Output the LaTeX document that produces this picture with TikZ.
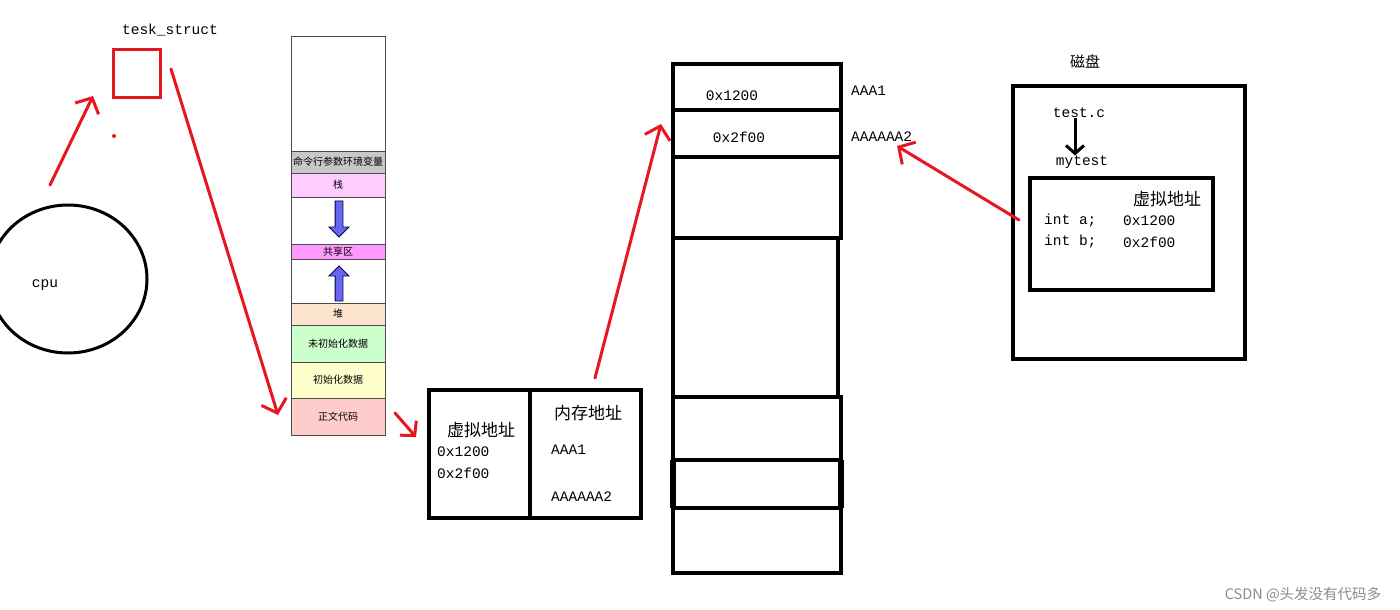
\documentclass[tikz,border=0pt]{standalone}
\usepackage{fontspec}
\setmainfont{Liberation Serif}
\setmonofont{Liberation Mono}
\newfontfamily\cjk{Noto Sans CJK SC}
\usepackage{xcolor}
\usetikzlibrary{positioning}
\usetikzlibrary{arrows.meta,shapes.arrows,shapes.geometric}

\definecolor{penred}{RGB}{232,22,32}
\definecolor{cmdgray}{RGB}{200,200,200}
\definecolor{stackpink}{RGB}{255,204,255}
\definecolor{sharepink}{RGB}{255,153,255}
\definecolor{heappeach}{RGB}{252,228,206}
\definecolor{bssgreen}{RGB}{204,255,204}
\definecolor{datayellow}{RGB}{255,255,204}
\definecolor{textred}{RGB}{255,204,204}
\definecolor{fatblue}{RGB}{102,102,240}

\begin{document}
\begin{tikzpicture}[x=1pt,y=-1pt,
pen/.style={penred, line width=3pt, line cap=round, line join=round, -{Straight Barb[length=12pt,width=26pt]}},
seg/.style={rectangle, draw=black!70, line width=0.8pt, outer sep=0pt, inner sep=0pt, minimum width=94pt, font=\cjk\fontsize{10}{10}\selectfont},
fat/.style={single arrow, draw=black!70!blue, fill=fatblue, line width=0.8pt, minimum width=19pt, single arrow head extend=6pt, inner sep=3.5pt, minimum height=36pt, shape border rotate=270},
cell/.style={rectangle, draw, line width=3.5pt, outer sep=0pt, inner sep=0pt},
mono/.style={font=\ttfamily\fontsize{14.5}{14.5}\selectfont, inner sep=0pt},
han/.style={font=\cjk\fontsize{17}{17}\selectfont, inner sep=0pt}
]
\fill[white] (0,0) rectangle (1400,610);
\useasboundingbox (0,0) rectangle (1400,610);

%Nodes
\node[draw, ellipse, line width=3pt, minimum width=158pt, minimum height=148pt] (cpu) at (68,279) {};
\node[mono] at (45,285) {cpu};
\node[rectangle, draw=penred, line width=3pt, minimum size=47pt] (tsk) at (136.5,73.5) {};
\node[mono] (tskl) at (170,30) {tesk\_struct};
\fill[penred] (114,136) circle (2);

% address space
\node[seg, minimum height=115pt] (S0) at (338,36) [anchor=north] {};
\node[seg, fill=cmdgray, minimum height=22pt] (S1) [below=0pt of S0] {命令行参数环境变量};
\node[seg, fill=stackpink, minimum height=24pt] (S2) [below=0pt of S1] {栈};
\node[seg, minimum height=47pt] (S3) [below=0pt of S2] {};
\node[seg, fill=sharepink, minimum height=15pt] (S4) [below=0pt of S3] {共享区};
\node[seg, minimum height=44pt] (S5) [below=0pt of S4] {};
\node[seg, fill=heappeach, minimum height=22pt] (S6) [below=0pt of S5] {堆};
\node[seg, fill=bssgreen, minimum height=37pt] (S7) [below=0pt of S6] {未初始化数据};
\node[seg, fill=datayellow, minimum height=36pt] (S8) [below=0pt of S7] {初始化数据};
\node[seg, fill=textred, minimum height=37pt] (S9) [below=0pt of S8] {正文代码};
\node[fat] (down) at (339,217) {};
\node[fat, shape border rotate=90, minimum height=35pt] (up) at (339,285.5) {};

% page table
\node[cell, minimum width=101pt, minimum height=128pt] (PT1) at (479.5,454) {};
\node[cell, line width=4.5pt, minimum width=111pt, minimum height=128pt] (PT2) [right=0pt of PT1] {};
\node[han] (ptv) at (481,430) {虚拟地址};
\node[mono, anchor=west] (pta) at (437,452) {0x1200};
\node[mono, anchor=west] (ptb) at (437,473) {0x2f00};
\node[han] (ptm) at (588,413) {内存地址};
\node[mono, anchor=west] (ptx) at (551,450) {AAA1};
\node[mono, anchor=west] (pty) at (551,497) {AAAAAA2};

% physical memory
\node[cell, minimum width=168pt, minimum height=46pt] (M1) at (757,64) [anchor=north] {};
\node[cell, minimum width=168pt, minimum height=47pt] (M2) [below=0pt of M1] {};
\node[cell, minimum width=168pt, minimum height=81pt] (M3) [below=0pt of M2] {};
\node[cell, minimum width=165pt, minimum height=159pt, xshift=-1.5pt] (M4) [below=0pt of M3] {};
\node[cell, minimum width=168pt, minimum height=63pt] (M5) [below=0pt of M3.south, yshift=-159pt] {};
\node[cell, minimum width=168pt, minimum height=48pt] (M6) [below=0pt of M5] {};
\node[cell, minimum width=168pt, minimum height=65pt] (M7) [below=0pt of M6] {};
\node[mono] (m1) at (732,96) {0x1200};
\node[mono] (m2) at (739,137) {0x2f00};
\node[mono, anchor=west] (ma) at (851,91) {AAA1};
\node[mono, anchor=west] (mb) at (851,137) {AAAAAA2};

% disk
\node[han, font=\cjk\fontsize{15}{15}\selectfont] (dsk) at (1085,62) {磁盘};
\node[cell, minimum width=232pt, minimum height=273pt] (D) at (1129,222.5) {};
\node[mono] (tc) at (1079,113) {test.c};
\node[mono] (myt) at (1082,162) {mytest};
\node[cell, minimum width=183pt, minimum height=112pt] (DV) at (1121.5,234) {};
\node[han] (dvv) at (1167,199) {虚拟地址};
\node[mono, anchor=west] (da) at (1044,221) {int a;};
\node[mono, anchor=west] (db) at (1044,242) {int b;};
\node[mono, anchor=west] (dx) at (1123,221) {0x1200};
\node[mono, anchor=west] (dy) at (1123,242) {0x2f00};

\node[font=\cjk\fontsize{14.5}{14.5}\selectfont, text=black!45, inner sep=0pt] (wm) at (1303,595) {CSDN @头发没有代码多};

\coordinate (c1a) at (50,185);
\coordinate (c1b) at (93,96);
\coordinate (c2a) at (171,69);
\coordinate (c2b) at (278,415);
\coordinate (c3a) at (395,413);
\coordinate (c3b) at (416,437);
\coordinate (c4a) at (595,378);
\coordinate (c4b) at (661,124);
\coordinate (c5a) at (1019,220);
\coordinate (c5b) at (897,146);

%Lines
\draw[line width=6pt] (M6.north west) -- (M6.south west);
\draw[line width=6pt] (M6.north east) -- (M6.south east);
\draw[line width=3pt, -{Straight Barb[length=8pt,width=18pt]}] ([xshift=-4pt]tc.south) -- ([xshift=-7pt]myt.north);

\draw[pen] (c1a) -- (c1b);
\draw[pen] (c2a) -- (c2b);
\draw[pen, -{Straight Barb[length=10pt,width=22pt]}] (c3a) -- (c3b);
\draw[pen] (c4a) -- (c4b);
\draw[pen] (c5a) -- (c5b);
\end{tikzpicture}
\end{document}
